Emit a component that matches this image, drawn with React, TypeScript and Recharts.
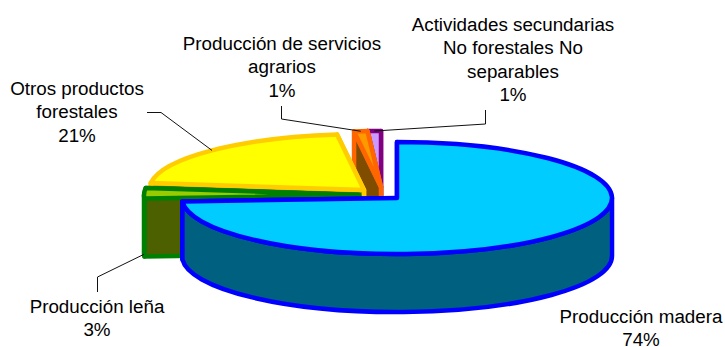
import { Pie, PieChart } from "recharts";

// drawn back to front, going counter-clockwise from the top of the pie
const categorias = [
  "Actividades secundarias No forestales No separables",
  "Producción de servicios agrarios",
  "Otros productos forestales",
  "Producción leña",
  "Producción madera",
];
const valores = [1, 1, 21, 3, 74];
const lineasEtiqueta = [
  ["Actividades secundarias", "No forestales No", "separables"],
  ["Producción de servicios", "agrarios"],
  ["Otros productos", "forestales"],
  ["Producción leña"],
  ["Producción madera"],
];

const relleno = ["#CC99FF", "#FF9900", "#FFFF00", "#99CC00", "#00CCFF"];
const borde = ["#800080", "#FF6600", "#FFCC00", "#008000", "#0000FF"];
const lateral = ["#660080", "#804D00", "#808000", "#4D6000", "#006080"];

// how far each slice is pulled out of the pie
const explosionX = [0, 0, -17, -22, 16];
const explosionY = [0, 0, 3, 8, 11];

// first baseline of each label
const etiquetaX = [513, 282, 77, 97, 641];
const etiquetaY = [30.7, 50, 95, 313, 323];
// elbow points of the leader lines
const codos: number[][][] = [
  [[485.5, 110], [485.5, 124]],
  [[281.5, 106], [281.5, 119]],
  [[147, 112.5], [161, 112.5]],
  [[97.5, 292], [97.5, 277]],
  [],
];

const ANCHO = 725;
const ALTO = 347;
const RADIO = 215;
const APLASTADO = 56 / 215;
const GROSOR = 58;
const INTERLINEA = 23.4;

const datos = categorias.map((nombre, i) => ({ nombre, valor: valores[i] }));

function borde3d(cx: number, cy: number, r: number, grados: number) {
  const a = (grados * Math.PI) / 180;
  return { x: cx + r * Math.cos(a), y: cy - r * APLASTADO * Math.sin(a) };
}

function Porcion(props: any) {
  const i = datos.findIndex((d) => d.nombre === props.payload?.nombre || d.nombre === props.nombre);
  const cx = props.cx + explosionX[i];
  const cy = props.cy + explosionY[i];
  const r = props.outerRadius;
  const ry = r * APLASTADO;
  const a0 = props.startAngle;
  const a1 = props.endAngle;
  const p0 = borde3d(cx, cy, r, a0);
  const p1 = borde3d(cx, cy, r, a1);
  const grande = a1 - a0 > 180 ? 1 : 0;

  const cara = (p: { x: number; y: number }) =>
    `M${cx},${cy} L${p.x},${p.y} L${p.x},${p.y + GROSOR} L${cx},${cy + GROSOR} Z`;

  // outer wall only exists on the front half of the ellipse
  const desde = Math.max(a0, 180);
  const hasta = Math.min(a1, 360);
  let pared = null;
  if (hasta > desde) {
    const q0 = borde3d(cx, cy, r, desde);
    const q1 = borde3d(cx, cy, r, hasta);
    pared =
      `M${q0.x},${q0.y} A${r},${ry} 0 0 0 ${q1.x},${q1.y} ` +
      `L${q1.x},${q1.y + GROSOR} A${r},${ry} 0 0 1 ${q0.x},${q0.y + GROSOR} Z`;
  }

  const comun = { stroke: borde[i], strokeWidth: 4.5, strokeLinejoin: "round" as const };
  return (
    <g>
      <path d={cara(p0)} fill={lateral[i]} {...comun} />
      <path d={cara(p1)} fill={lateral[i]} {...comun} />
      {pared ? <path d={pared} fill={lateral[i]} {...comun} /> : null}
      <path
        d={`M${cx},${cy} L${p0.x},${p0.y} A${r},${ry} 0 ${grande} 0 ${p1.x},${p1.y} Z`}
        fill={relleno[i]}
        {...comun}
      />
    </g>
  );
}

function Etiqueta(props: any) {
  const i = props.index;
  const cx = props.cx + explosionX[i];
  const cy = props.cy + explosionY[i];
  const lineas = [...lineasEtiqueta[i], `${valores[i]}%`];
  const punta = borde3d(cx, cy, props.outerRadius, props.midAngle);
  // the leña leader lands on the bottom of its wall
  const puntaY = i === 3 ? punta.y + GROSOR + 3 : punta.y;
  const tramo = codos[i];
  return (
    <g>
      {tramo.length ? (
        <polyline
          points={[...tramo.map((c) => c.join(",")), `${punta.x},${puntaY}`].join(" ")}
          fill="none"
          stroke="#111111"
          strokeWidth={1}
        />
      ) : null}
      <text
        x={etiquetaX[i]}
        y={etiquetaY[i]}
        textAnchor="middle"
        fontFamily="'Liberation Sans', Arial, sans-serif"
        fontSize={18.8}
        fill="#000000"
      >
        {lineas.map((l, n) => (
          <tspan key={n} x={etiquetaX[i]} y={etiquetaY[i] + n * INTERLINEA}>
            {l}
          </tspan>
        ))}
      </text>
    </g>
  );
}

export default function App() {
  return (
    <div style={{ position: "absolute", left: 0, top: 0, width: ANCHO, height: ALTO, background: "#FFFFFF" }}>
      <PieChart width={ANCHO} height={ALTO} margin={{ top: 0, right: 0, bottom: 0, left: 0 }}>
        <Pie
          data={datos}
          dataKey="valor"
          nameKey="nombre"
          cx={381}
          cy={187}
          innerRadius={0}
          outerRadius={RADIO}
          startAngle={90}
          endAngle={450}
          paddingAngle={0}
          stroke="none"
          shape={Porcion}
          label={Etiqueta}
          labelLine={false}
          isAnimationActive={false}
        />
      </PieChart>
    </div>
  );
}
